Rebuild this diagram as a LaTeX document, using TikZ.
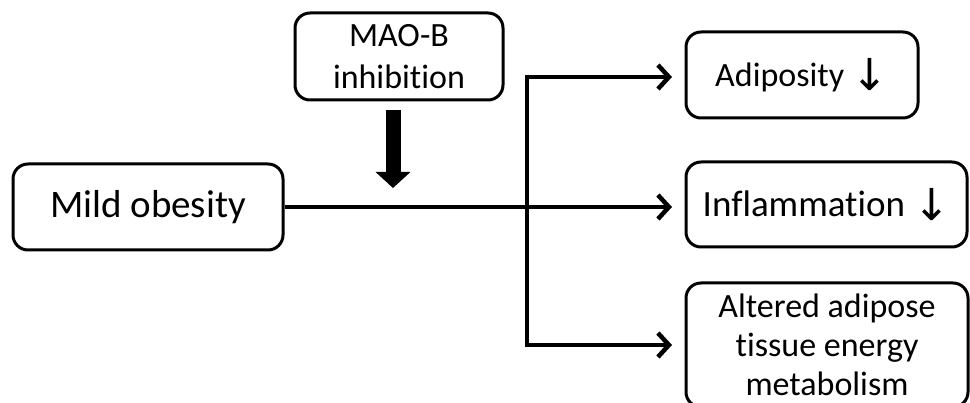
\documentclass[tikz,border=0pt]{standalone}
\usepackage{fontspec}
\setmainfont{Carlito}[Ligatures=NoCommon]
\newfontfamily\symfont{DejaVu Sans}
\usetikzlibrary{arrows.meta}
\tikzset{
  box/.style={draw=black, line width=3pt, rounded corners=15pt, align=center, inner sep=0pt},
  conn/.style={line width=4.5pt, -{Straight Barb[length=11pt,width=24pt,line width=4.5pt]}},
}
\newcommand{\dnarrow}{\raisebox{-4pt}{\fontsize{44}{44}\symfont\char"2193}}
\begin{document}
\begin{tikzpicture}[x=1pt,y=-1pt]
\useasboundingbox (0,0) rectangle (970,403);
\node[box, minimum width=208pt, minimum height=87pt, font=\fontsize{34}{42}\selectfont] (mao) at (399,56.5) {MAO-B\\inhibition};
\node[box, minimum width=270pt, minimum height=86pt, font=\fontsize{39}{46}\selectfont] (mild) at (148,207) {Mild obesity};
\node[box, minimum width=232pt, minimum height=86pt, font=\fontsize{34}{40}\selectfont] (adi) at (802,75) {Adiposity \dnarrow};
\node[box, minimum width=281pt, minimum height=85pt, font=\fontsize{37}{44}\selectfont] (inf) at (826.5,204.5) {Inflammation \dnarrow};
\node[box, minimum width=282pt, minimum height=124pt, font=\fontsize{34}{39}\selectfont] (alt) at (827,345) {Altered adipose\\tissue energy\\metabolism};
\coordinate (jv) at (527,207);
\coordinate (t1) at (672,77);
\coordinate (t2) at (672,207);
\coordinate (t3) at (672,345);
\coordinate (ks) at (393,110);
\coordinate (ke) at (393,188);
\draw[conn] (mild.east |- t2) -- (t2);
\draw[conn] (jv) |- (t1);
\draw[conn] (jv) |- (t3);
\draw[line width=15pt, -{Triangle[length=16pt,width=34pt]}] (ks) -- (ke);
\end{tikzpicture}
\end{document}
